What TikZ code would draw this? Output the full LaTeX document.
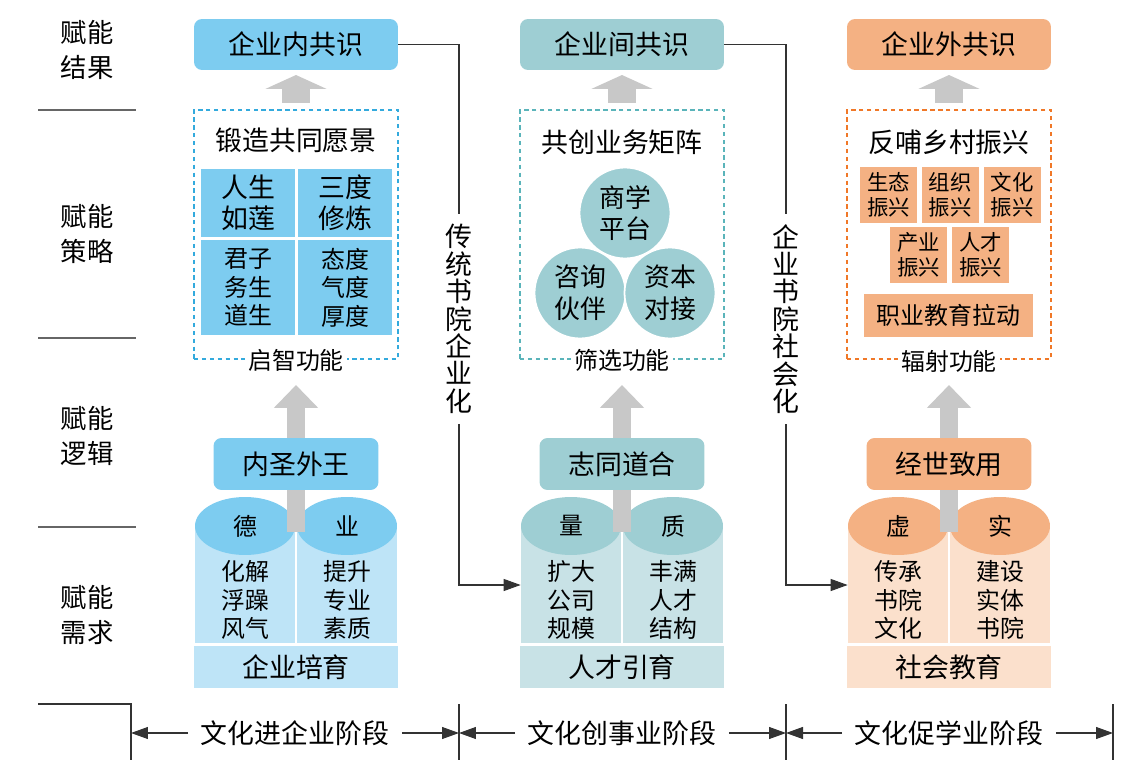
\documentclass[tikz,border=0pt]{standalone}
\usepackage{fontspec}
\setmainfont{Noto Sans CJK SC}
\usepackage{xcolor}
\usepackage{tikz}
\usetikzlibrary{arrows.meta, positioning, shapes.geometric}
\definecolor{bluedk}{HTML}{7DCCF0}
\definecolor{bluelt}{HTML}{BEE4F7}
\definecolor{bluedash}{HTML}{33AADD}
\definecolor{tealdk}{HTML}{9ECED3}
\definecolor{teallt}{HTML}{C8E2E6}
\definecolor{tealdash}{HTML}{5AB4BA}
\definecolor{orgdk}{HTML}{F4B183}
\definecolor{orglt}{HTML}{FBE0CC}
\definecolor{orgdash}{HTML}{F07828}
\definecolor{arrgray}{HTML}{C8C8C8}
\newcommand{\fbig}{\fontsize{15.3pt}{17.6pt}\selectfont}
\newcommand{\fcirc}{\fontsize{14.7pt}{18.1pt}\selectfont}
\newcommand{\fmid}{\fontsize{13.6pt}{16.2pt}\selectfont}
\newcommand{\fsml}{\fontsize{12.2pt}{14.2pt}\selectfont}
\newcommand{\fvert}{\fontsize{15.3pt}{15.6pt}\selectfont}
\newcommand{\frow}{\fontsize{15pt}{20.4pt}\selectfont}
\tikzset{
  headnode/.style={rounded corners=0.16cm,minimum width=4.08cm,minimum height=1.02cm,inner sep=0pt,font=\fbig},
  midnode/.style={rounded corners=0.16cm,minimum width=3.3cm,minimum height=1.04cm,inner sep=0pt,font=\fbig},
  funcbox/.style={draw,line width=0.7pt,dash pattern=on 2.5pt off 2pt,minimum width=4.08cm,minimum height=4.98cm,inner sep=0pt},
  funclbl/.style={fill=white,inner sep=0.06cm,font=\fmid},
  titlenode/.style={font=\fbig,inner sep=0pt},
  cellnode/.style={minimum width=1.88cm,inner sep=0pt,align=center},
  cylnode/.style={minimum width=2.0cm,minimum height=2.32cm,inner sep=0pt},
  capnode/.style={ellipse,minimum width=2.0cm,minimum height=1.16cm,inner sep=0pt,font=\fmid},
  cyltext/.style={align=center,font=\fmid,inner sep=0pt},
  basenode/.style={minimum width=4.08cm,minimum height=0.84cm,inner sep=0pt,font=\fbig},
  circnode/.style={circle,minimum size=1.82cm,inner sep=0pt,fill=tealdk,draw=white,line width=1pt,align=center,font=\fcirc},
  revnode/.style={minimum width=1.14cm,minimum height=1.12cm,inner sep=0pt,fill=orgdk,align=center,font=\fsml},
  rowlbl/.style={align=center,font=\frow},
  vlbl/.style={align=center,font=\fvert,inner sep=0.2cm},
  stagelbl/.style={font=\fbig,inner sep=0.25cm},
  linkedge/.style={-{Triangle[length=0.34cm,width=0.24cm]},black!80,line width=0.6pt},
  plainedge/.style={black!80,line width=0.6pt},
  fatup/.style={arrgray,line width=0.36cm,-{Triangle[length=0.46cm,width=0.86cm]}},
  fattop/.style={arrgray,line width=0.56cm,-{Triangle[length=0.28cm,width=1.22cm]}},
  rowline/.style={black!60,line width=0.6pt},
}
\begin{document}
\begin{tikzpicture}[x=0.02cm,y=-0.02cm]
  \useasboundingbox (0,0) rectangle (1137,784);
  % row labels
  \node[rowlbl] (rRes) at (87,50) {赋能\\结果};
  \node[rowlbl] (rStr) at (87,234) {赋能\\策略};
  \node[rowlbl] (rLog) at (87,436) {赋能\\逻辑};
  \node[rowlbl] (rNee) at (87,615) {赋能\\需求};
  \draw[rowline] (38,110) -- (136,110);
  \draw[rowline] (38,338) -- (136,338);
  \draw[rowline] (38,527) -- (136,527);

  % column 1
  \node[funcbox,draw=bluedash] (fb1) at (296,234.5) {};
  \node[funclbl] (fl1) at (296,360) {启智功能};
  \node[headnode,fill=bluedk] (hd1) at (296,44.5) {企业内共识};
  \coordinate (ua1) at (296,103);
  \coordinate (ut1) at (296,75);
  \draw[fattop] (ua1) -- (ut1);
  \node[titlenode] (tt1) at (296,140) {锻造共同愿景};
  \node[cellnode,fill=bluedk,minimum height=1.36cm,font=\fbig] (c11) at (248,203) {人生\\如莲};
  \node[cellnode,fill=bluedk,minimum height=1.36cm,font=\fbig] (c12) at (345,203) {三度\\修炼};
  \node[cellnode,fill=bluedk,minimum height=1.9cm,font=\fmid] (c21) at (248,287.5) {君子\\务生\\道生};
  \node[cellnode,fill=bluedk,minimum height=1.9cm,font=\fmid] (c22) at (345,287.5) {态度\\气度\\厚度};
  \node[cylnode,fill=bluelt] (bL1) at (245,585) {};
  \node[cylnode,fill=bluelt] (bR1) at (347,585) {};
  \node[capnode,fill=bluedk] (eL1) at (245,526) {德};
  \node[capnode,fill=bluedk] (eR1) at (347,526) {业};
  \node[cyltext] (xL1) at (245,600) {化解\\浮躁\\风气};
  \node[cyltext] (xR1) at (347,600) {提升\\专业\\素质};
  \node[basenode,fill=bluelt] (bs1) at (296,667) {企业培育};
  \coordinate (da1) at (296,532);
  \coordinate (dt1) at (296,385);
  \draw[fatup] (da1) -- (dt1);
  \node[midnode,fill=bluedk] (md1) at (296,464) {内圣外王};

  % column 2
  \node[funcbox,draw=tealdash] (fb2) at (622,234.5) {};
  \node[funclbl] (fl2) at (622,360) {筛选功能};
  \node[headnode,fill=tealdk] (hd2) at (622,44.5) {企业间共识};
  \coordinate (ua2) at (622,103);
  \coordinate (ut2) at (622,75);
  \draw[fattop] (ua2) -- (ut2);
  \node[titlenode] (tt2) at (622,142) {共创业务矩阵};
  \node[circnode] (ci1) at (625,213) {商学\\平台};
  \node[circnode] (ci2) at (580,293) {咨询\\伙伴};
  \node[circnode] (ci3) at (670,293) {资本\\对接};
  \node[cylnode,fill=teallt] (bL2) at (571,585) {};
  \node[cylnode,fill=teallt] (bR2) at (673,585) {};
  \node[capnode,fill=tealdk] (eL2) at (571,526) {量};
  \node[capnode,fill=tealdk] (eR2) at (673,526) {质};
  \node[cyltext] (xL2) at (571,600) {扩大\\公司\\规模};
  \node[cyltext] (xR2) at (673,600) {丰满\\人才\\结构};
  \node[basenode,fill=teallt] (bs2) at (622,667) {人才引育};
  \coordinate (da2) at (622,532);
  \coordinate (dt2) at (622,385);
  \draw[fatup] (da2) -- (dt2);
  \node[midnode,fill=tealdk] (md2) at (622,464) {志同道合};

  % column 3
  \node[funcbox,draw=orgdash] (fb3) at (949,234.5) {};
  \node[funclbl] (fl3) at (949,361) {辐射功能};
  \node[headnode,fill=orgdk] (hd3) at (949,44.5) {企业外共识};
  \coordinate (ua3) at (949,103);
  \coordinate (ut3) at (949,75);
  \draw[fattop] (ua3) -- (ut3);
  \node[titlenode] (tt3) at (949,142) {反哺乡村振兴};
  \node[revnode] (rv1) at (888.5,195) {生态\\振兴};
  \node[revnode] (rv2) at (950,195) {组织\\振兴};
  \node[revnode] (rv3) at (1012,195) {文化\\振兴};
  \node[revnode] (rv4) at (918.5,255) {产业\\振兴};
  \node[revnode] (rv5) at (980.5,255) {人才\\振兴};
  \node[revnode,minimum width=3.38cm,minimum height=0.86cm,font=\fmid] (rv6) at (948.5,315.5) {职业教育拉动};
  \node[cylnode,fill=orglt] (bL3) at (898,585) {};
  \node[cylnode,fill=orglt] (bR3) at (1000,585) {};
  \node[capnode,fill=orgdk] (eL3) at (898,526) {虚};
  \node[capnode,fill=orgdk] (eR3) at (1000,526) {实};
  \node[cyltext] (xL3) at (898,600) {传承\\书院\\文化};
  \node[cyltext] (xR3) at (1000,600) {建设\\实体\\书院};
  \node[basenode,fill=orglt] (bs3) at (949,667) {社会教育};
  \coordinate (da3) at (949,532);
  \coordinate (dt3) at (949,385);
  \draw[fatup] (da3) -- (dt3);
  \node[midnode,fill=orgdk] (md3) at (949,464) {经世致用};

  % links between columns
  \node[vlbl] (v1) at (459,319) {传\\统\\书\\院\\企\\业\\化};
  \node[vlbl] (v2) at (786,319) {企\\业\\书\\院\\社\\会\\化};
  \draw[plainedge] (hd1.east) -| (v1.north);
  \draw[linkedge] (v1.south) |- (bL2.west);
  \draw[plainedge] (hd2.east) -| (v2.north);
  \draw[linkedge] (v2.south) |- (bL3.west);

  % stages
  \draw[plainedge] (38,704) -| (131,760);
  \draw[plainedge] (459,704) -- (459,760);
  \draw[plainedge] (786,704) -- (786,760);
  \draw[plainedge] (1113,704) -- (1113,760);
  \coordinate (k0) at (131,733);
  \coordinate (k1) at (459,733);
  \coordinate (k2) at (786,733);
  \coordinate (k3) at (1113,733);
  \node[stagelbl] (s1) at (295,733) {文化进企业阶段};
  \node[stagelbl] (s2) at (622,733) {文化创事业阶段};
  \node[stagelbl] (s3) at (949,733) {文化促学业阶段};
  \draw[linkedge] (s1.west) -- (k0);
  \draw[linkedge] (s1.east) -- (k1);
  \draw[linkedge] (s2.west) -- (k1);
  \draw[linkedge] (s2.east) -- (k2);
  \draw[linkedge] (s3.west) -- (k2);
  \draw[linkedge] (s3.east) -- (k3);
\end{tikzpicture}
\end{document}
